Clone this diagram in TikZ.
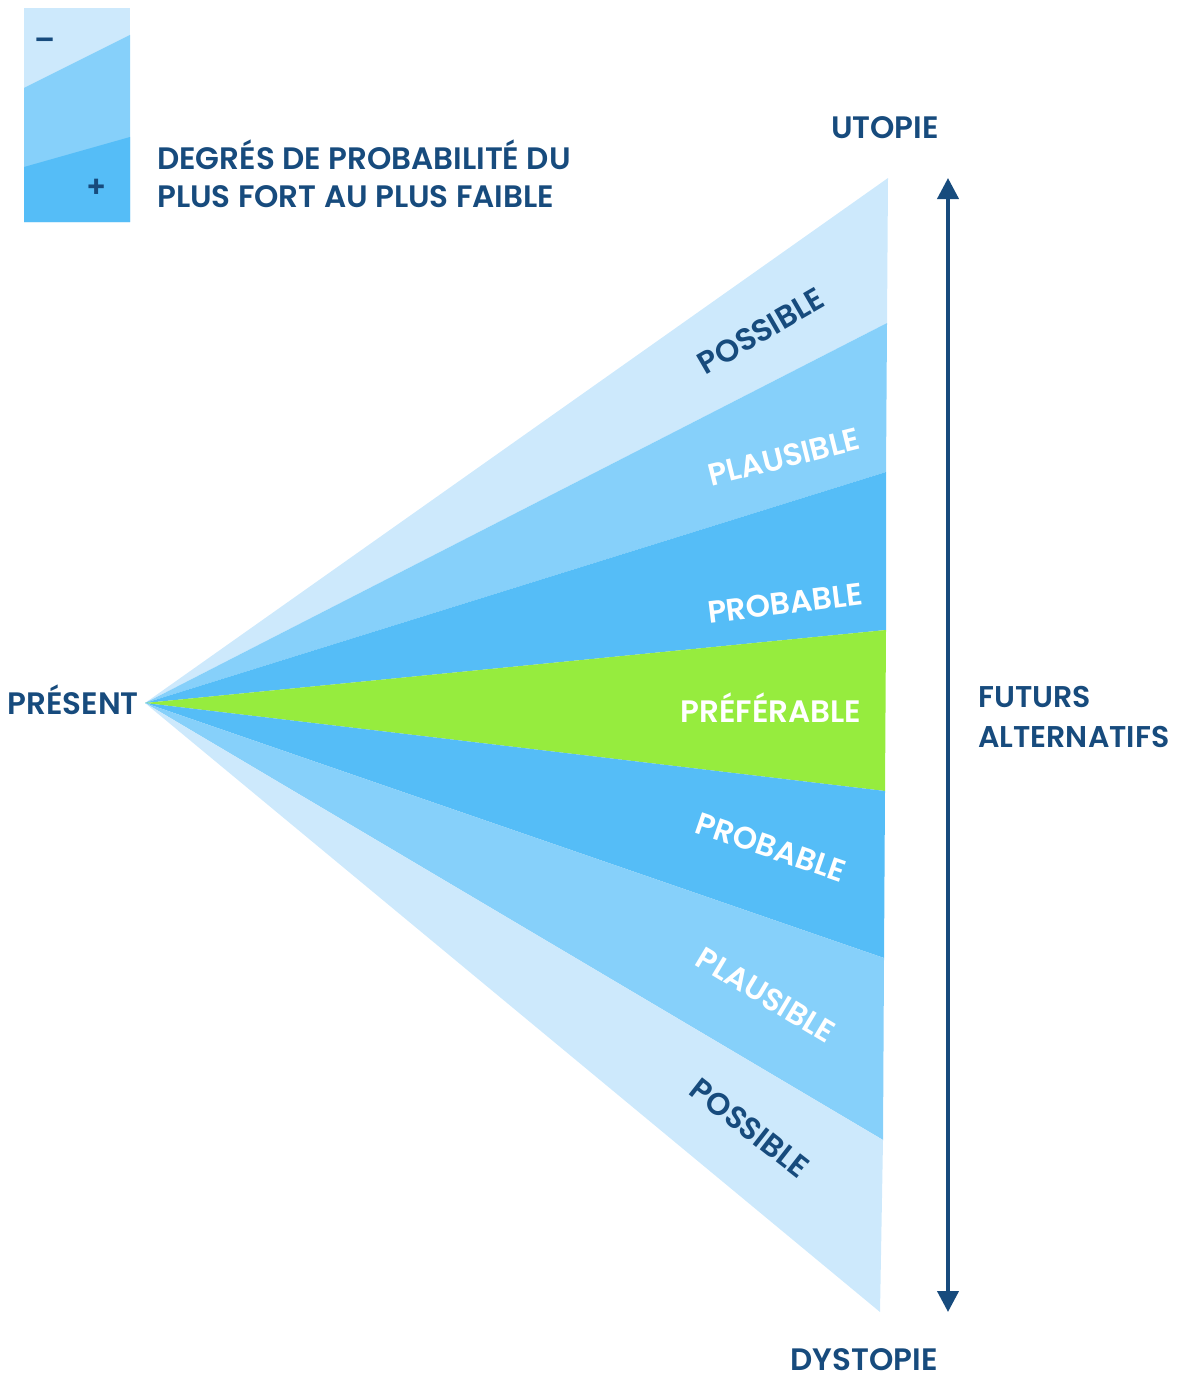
\documentclass[tikz,border=0pt]{standalone}
\usepackage{fontspec}
\setmainfont{Poppins}[UprightFont={* SemiBold}]
\usetikzlibrary{arrows.meta}
\definecolor{navy}{HTML}{174B7D}
\definecolor{lightb}{HTML}{CDE9FC}
\definecolor{midb}{HTML}{86D0FA}
\definecolor{darkb}{HTML}{55BDF7}
\definecolor{greenb}{HTML}{96EC3E}
\begin{document}
\begin{tikzpicture}[x=1pt,y=-1pt,
  lbl/.style={font=\fontsize{31}{31}\selectfont, inner sep=0pt, text height=22pt, text depth=0pt},
  navylbl/.style={lbl, text=navy},
  whitelbl/.style={lbl, text=white},
  side/.style={font=\fontsize{31}{31}\selectfont, inner sep=0pt, text=navy, text height=22pt, text depth=0pt},
  legendtxt/.style={font=\fontsize{31}{31}\selectfont, inner sep=0pt, text=navy, anchor=base west},
  sign/.style={inner sep=0pt, text=navy, font=\fontsize{30}{30}\selectfont, text height=12pt, text depth=0pt},
  axis/.style={draw=navy, line width=4pt, {Triangle[width=21pt,length=21pt]}-{Triangle[width=21pt,length=21pt]}}]
\useasboundingbox (0,0) rectangle (1177,1378);
% fan
\coordinate (apex) at (145,703);
\coordinate (r0) at (888,178);
\coordinate (r1) at (887,323);
\coordinate (r2) at (886,472);
\coordinate (r3) at (886,630);
\coordinate (r4) at (885,791);
\coordinate (r5) at (884,958);
\coordinate (r6) at (883,1140);
\coordinate (r7) at (880,1312);
\fill[lightb] (apex) -- (r0) -- (r1) -- cycle;
\fill[midb] (apex) -- (r1) -- (r2) -- cycle;
\fill[darkb] (apex) -- (r2) -- (r3) -- cycle;
\fill[greenb] (apex) -- (r3) -- (r4) -- cycle;
\fill[darkb] (apex) -- (r4) -- (r5) -- cycle;
\fill[midb] (apex) -- (r5) -- (r6) -- cycle;
\fill[lightb] (apex) -- (r6) -- (r7) -- cycle;
% fan labels
\node[navylbl, rotate=30] (possT) at (761,331) {POSSIBLE};
\node[whitelbl, rotate=14] (plauT) at (784,457) {PLAUSIBLE};
\node[whitelbl, rotate=7] (probT) at (785,603) {PROBABLE};
\node[whitelbl] (pref) at (771,711) {PRÉFÉRABLE};
\node[whitelbl, rotate=-19] (probB) at (771,847) {PROBABLE};
\node[whitelbl, rotate=-31] (plauB) at (766,995) {PLAUSIBLE};
\node[navylbl, rotate=-38] (possB) at (750,1128) {POSSIBLE};
% side labels
\node[side, anchor=east] (present) at (139,703) {PRÉSENT};
\node[side] (utopie) at (885,128) {UTOPIE};
\node[side] (dystopie) at (864,1359) {DYSTOPIE};
\node[legendtxt, font=\fontsize{30}{30}\selectfont] (futurs) at (978,707) {FUTURS};
\node[legendtxt, font=\fontsize{30}{30}\selectfont] (altern) at (978,747) {ALTERNATIFS};
% axis arrow
\coordinate (atop) at (948,178);
\coordinate (abot) at (948,1312);
\draw[axis] (abot) -- (atop);
% legend
\fill[lightb] (24,8) rectangle (130,222);
\fill[midb] (24,88) -- (130,35) -- (130,222) -- (24,222) -- cycle;
\fill[darkb] (24,167) -- (130,137) -- (130,222) -- (24,222) -- cycle;
\node[sign] (minus) at (45,45) {–};
\node[sign] (plus) at (97,191) {+};
\node[legendtxt] (legend1) at (157,169) {DEGRÉS DE PROBABILITÉ DU};
\node[legendtxt] (legend2) at (157,207) {PLUS FORT AU PLUS FAIBLE};
\end{tikzpicture}
\end{document}
